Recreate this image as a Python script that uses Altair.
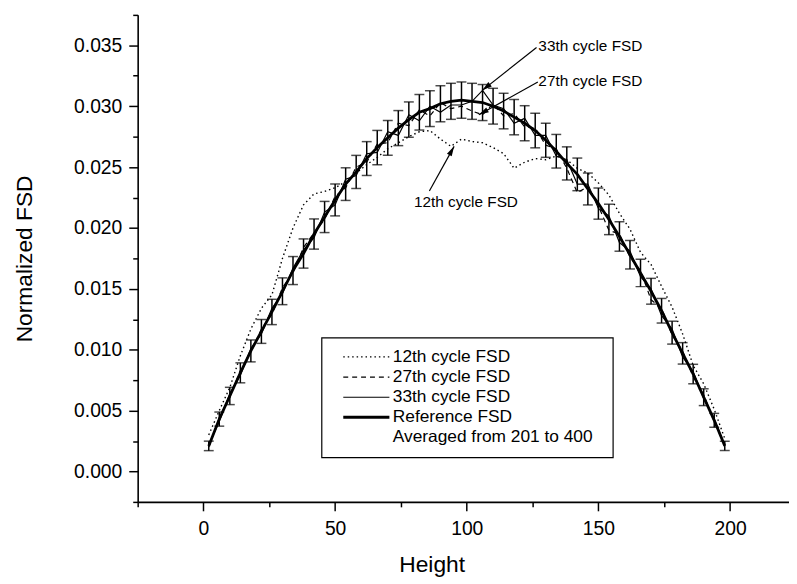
import altair as alt
import pandas as pd

# ---------------- data ----------------
heights = [2, 6, 10, 14, 18, 22, 26, 30, 34, 38, 42, 46, 50, 54, 58, 62, 66, 70, 74, 78,
           82, 86, 90, 94, 98, 102, 106, 110, 114, 118, 122, 126, 130, 134, 138, 142, 146, 150, 154, 158,
           162, 166, 170, 174, 178, 182, 186, 190, 194, 198]

ref_fsd = [0.0021, 0.0043, 0.0062, 0.0081, 0.0099, 0.0115, 0.0131, 0.0148, 0.0165, 0.0179,
           0.0195, 0.0209, 0.0223, 0.0236, 0.0246, 0.0257, 0.0266, 0.0274, 0.0282, 0.0289,
           0.0295, 0.0298, 0.0302, 0.0304, 0.0305, 0.0304, 0.0303, 0.0300, 0.0296, 0.0291,
           0.0286, 0.0280, 0.0272, 0.0263, 0.0253, 0.0244, 0.0232, 0.0220, 0.0207, 0.0193,
           0.0178, 0.0163, 0.0148, 0.0132, 0.0114, 0.0097, 0.0080, 0.0061, 0.0042, 0.0021]

ref_err = [0.00039, 0.00058, 0.00071, 0.00082, 0.00090, 0.00098, 0.00104, 0.00110, 0.00115, 0.00120,
           0.00124, 0.00128, 0.00131, 0.00134, 0.00136, 0.00139, 0.00141, 0.00142, 0.00144, 0.00145,
           0.00146, 0.00147, 0.00148, 0.00148, 0.00149, 0.00148, 0.00148, 0.00147, 0.00146, 0.00145,
           0.00144, 0.00142, 0.00140, 0.00138, 0.00136, 0.00134, 0.00131, 0.00128, 0.00125, 0.00121,
           0.00117, 0.00112, 0.00106, 0.00101, 0.00094, 0.00088, 0.00080, 0.00069, 0.00057, 0.00038]

fsd_12 = [0.0030, 0.0050, 0.0069, 0.0095, 0.0117, 0.0134, 0.0145, 0.0175, 0.0200, 0.0219,
          0.0228, 0.0230, 0.0233, 0.0238, 0.0245, 0.0252, 0.0258, 0.0265, 0.0270, 0.0275,
          0.0279, 0.0280, 0.0273, 0.0267, 0.0273, 0.0271, 0.0270, 0.0266, 0.0261, 0.0249,
          0.0254, 0.0257, 0.0256, 0.0259, 0.0256, 0.0249, 0.0245, 0.0237, 0.0227, 0.0212,
          0.0199, 0.0180, 0.0170, 0.0152, 0.0135, 0.0113, 0.0087, 0.0072, 0.0051, 0.0027]

fsd_27 = [0.0020, 0.0044, 0.0061, 0.0083, 0.0098, 0.0117, 0.0129, 0.0151, 0.0163, 0.0184,
          0.0196, 0.0207, 0.0226, 0.0233, 0.0250, 0.0254, 0.0269, 0.0270, 0.0286, 0.0284,
          0.0297, 0.0292, 0.0303, 0.0298, 0.0300, 0.0296, 0.0293, 0.0302, 0.0292, 0.0294,
          0.0283, 0.0282, 0.0268, 0.0265, 0.0249, 0.0229, 0.0234, 0.0218, 0.0198, 0.0195,
          0.0176, 0.0165, 0.0141, 0.0134, 0.0112, 0.0099, 0.0078, 0.0063, 0.0041, 0.0022]

fsd_33 = [0.0022, 0.0041, 0.0064, 0.0079, 0.0101, 0.0113, 0.0134, 0.0146, 0.0167, 0.0182,
          0.0192, 0.0213, 0.0219, 0.0240, 0.0243, 0.0261, 0.0262, 0.0279, 0.0276, 0.0293,
          0.0288, 0.0300, 0.0295, 0.0301, 0.0301, 0.0304, 0.0313, 0.0301, 0.0298, 0.0286,
          0.0290, 0.0276, 0.0276, 0.0259, 0.0256, 0.0236, 0.0236, 0.0216, 0.0210, 0.0188,
          0.0181, 0.0160, 0.0150, 0.0128, 0.0117, 0.0094, 0.0082, 0.0060, 0.0043, 0.0021]

x_tick_values = [-25, 0, 25, 50, 75, 100, 125, 150, 175, 200]
y_tick_values = [-0.0025, 0.0, 0.0025, 0.005, 0.0075, 0.01, 0.0125, 0.015, 0.0175, 0.02,
                 0.0225, 0.025, 0.0275, 0.03, 0.0325, 0.035, 0.0375]

legend_labels = ["12th cycle FSD", "27th cycle FSD", "33th cycle FSD", "Reference FSD",
                 "Averaged from 201 to 400"]

ann_labels = ["33th cycle FSD", "27th cycle FSD", "12th cycle FSD"]
ann_text_h = [127.2, 127.2, 99.7]
ann_text_v = [0.03496, 0.03206, 0.02214]
ann_align = ["left", "left", "center"]
ann_tail_h = [126.5, 127.0, 85.8]
ann_tail_v = [0.03482, 0.03198, 0.02304]
ann_tip_h = [105.9, 104.6, 95.2]
ann_tip_v = [0.0313, 0.0293, 0.0267]
ann_angle = [231.8, 241.4, 29.0]

# ---------------- styling ----------------
FONT = "Liberation Sans"
X_MAJOR = "datum.value % 50 == 0"
Y_MAJOR = "abs(round(datum.value * 10000) % 50) < 1"

xscale = alt.Scale(domain=[-25, 222.4], nice=False, zero=False)
yscale = alt.Scale(domain=[-0.0025, 0.0375], nice=False, zero=False)

common_axis = dict(grid=False, domainColor="black", domainWidth=1.6, tickColor="black",
                   tickWidth=1.5, labelFont=FONT, labelFontSize=19.5, labelColor="black",
                   labelOverlap=False, labelFlush=False, titleFont=FONT, titleFontSize=23,
                   titleFontWeight="normal", titleColor="black")

x_axis = alt.Axis(values=x_tick_values, title="Height", format="d",
                  labelExpr=f"{X_MAJOR} ? datum.label : ''",
                  tickSize={"condition": {"test": X_MAJOR, "value": 9}, "value": 5},
                  labelPadding=9, titleX=297, titleY=70, titleAlign="center",
                  titleBaseline="alphabetic", **common_axis)
y_axis = alt.Axis(values=y_tick_values, title="Normalized FSD",
                  labelExpr=f"{Y_MAJOR} ? format(datum.value, '.3f') : ''",
                  tickSize={"condition": {"test": Y_MAJOR, "value": 9}, "value": 5},
                  labelPadding=7, titleAngle=270, titleX=-107, titleY=246,
                  titleAlign="center", titleBaseline="alphabetic", **common_axis)


def X(field):
    return alt.X(f"{field}:Q", scale=xscale, axis=x_axis)


def Y(field):
    return alt.Y(f"{field}:Q", scale=yscale, axis=y_axis)


df = pd.DataFrame({"h": heights, "ref": ref_fsd, "err": ref_err,
                   "c12": fsd_12, "c27": fsd_27, "c33": fsd_33})
df["lo"] = df["ref"] - df["err"]
df["hi"] = df["ref"] + df["err"]

base = alt.Chart(df)

line12 = base.mark_line(color="black", strokeWidth=1.4, strokeDash=[1.5, 3]).encode(x=X("h"), y=Y("c12"))
line27 = base.mark_line(color="black", strokeWidth=1.2, strokeDash=[5, 4]).encode(x=X("h"), y=Y("c27"))
line33 = base.mark_line(color="black", strokeWidth=1.2).encode(x=X("h"), y=Y("c33"))
lineref = base.mark_line(color="black", strokeWidth=2.8).encode(x=X("h"), y=Y("ref"))

bars = base.mark_rule(color="black", strokeWidth=1.5).encode(x=X("h"), y=Y("lo"), y2="hi")
cap_lo = base.mark_tick(color="black", orient="horizontal", size=10, thickness=1.5).encode(x=X("h"), y=Y("lo"))
cap_hi = base.mark_tick(color="black", orient="horizontal", size=10, thickness=1.5).encode(x=X("h"), y=Y("hi"))

# ---------------- legend (drawn by hand) ----------------
one = pd.DataFrame({"k": [0]})
legend_box = alt.Chart(one).mark_rect(fill="white", stroke="black", strokeWidth=1.2).encode(
    x=alt.value(186), x2=alt.value(480.3), y=alt.value(326.3), y2=alt.value(447.3))

legend_styles = [dict(strokeWidth=1.4, strokeDash=[1.5, 3]),
                 dict(strokeWidth=1.2, strokeDash=[5, 4]),
                 dict(strokeWidth=1.2),
                 dict(strokeWidth=2.8),
                 None]
legend_rows_y = [345.5, 366.0, 386.3, 406.5, 426.8]

legend_layers = [legend_box]
for lab, sty, ry in zip(legend_labels, legend_styles, legend_rows_y):
    ldf = pd.DataFrame({"label": [lab]})
    if sty is not None:
        legend_layers.append(alt.Chart(ldf).mark_rule(color="black", **sty).encode(
            x=alt.value(207.7), x2=alt.value(254.3), y=alt.value(ry)))
    legend_layers.append(alt.Chart(ldf).mark_text(
        font=FONT, fontSize=17.5, color="black", align="left", baseline="middle").encode(
        x=alt.value(257.7), y=alt.value(ry), text="label:N"))

# ---------------- annotations ----------------
ann = pd.DataFrame({"label": ann_labels, "th": ann_text_h, "tv": ann_text_v, "align": ann_align,
                    "h1": ann_tail_h, "v1": ann_tail_v, "h2": ann_tip_h, "v2": ann_tip_v,
                    "ang": ann_angle})
ann_base = alt.Chart(ann)
arrows = ann_base.mark_rule(color="black", strokeWidth=1.2).encode(
    x=X("h1"), y=Y("v1"), x2="h2", y2="v2")
heads = ann_base.mark_point(shape="M0,0L-0.55,2L0.55,2Z", filled=True, color="black",
                            opacity=1, size=100).encode(
    x=X("h2"), y=Y("v2"), angle=alt.Angle("ang:Q", scale=None))
ann_left = ann_base.transform_filter("datum.align == 'left'").mark_text(
    font=FONT, fontSize=15.5, color="black", align="left", baseline="middle").encode(
    x=X("th"), y=Y("tv"), text="label:N")
ann_center = ann_base.transform_filter("datum.align == 'center'").mark_text(
    font=FONT, fontSize=15.5, color="black", align="center", baseline="middle").encode(
    x=X("th"), y=Y("tv"), text="label:N")

chart = alt.layer(
    line12, line27, line33, lineref, bars, cap_lo, cap_hi,
    *legend_layers, arrows, heads, ann_left, ann_center
).properties(
    width=658, height=492,
    padding={"left": 131, "top": 4, "right": 0, "bottom": 80},
    autosize=alt.AutoSizeParams(type="none"),
    background="white",
).configure_view(stroke=None)

chart.save("out.html", embed_options={"renderer": "svg", "actions": False})
